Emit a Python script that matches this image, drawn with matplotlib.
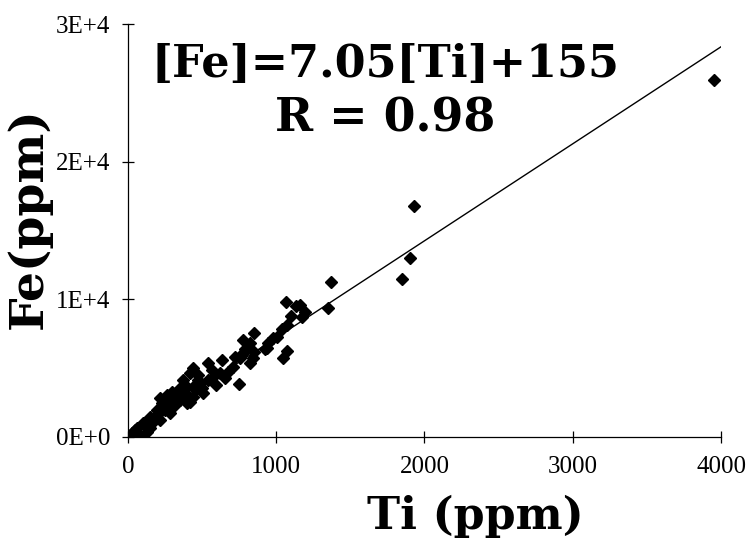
import matplotlib
matplotlib.use("Agg")
import matplotlib.pyplot as plt
import numpy as np

# Data
ti = [3953, 1929, 1902, 1848, 1369, 1349, 1194, 1174, 1160, 1133, 1066, 1099, 1072, 1039,
      1072, 1045, 978, 944, 924, 850, 823, 776, 789, 843, 755, 850, 776, 722, 634, 540,
      708, 823, 621, 573, 540, 472, 438, 418, 749, 371, 398, 465, 486, 364, 438, 506,
      351, 418, 938, 1005, 472, 499, 438, 351, 330, 263, 283, 229, 196, 250, 148, 101,
      61, 27, 10, 169, 128, 81, 196, 283, 371, 398, 216, 317, 115, 47, 13, 148, 216,
      297, 384, 567, 675, 594, 654]
fe = [25925, 16775, 13000, 11474, 11256, 9368, 9078, 8714, 9586, 9513, 9804, 8787, 8133, 7843,
      6245, 5737, 7189, 6826, 6391, 7552, 6826, 7044, 6391, 5737, 5737, 6173, 6100, 5810,
      5592, 5374, 5083, 5374, 4648, 4357, 4139, 4502, 5011, 4648, 3849, 4139, 3631, 3558,
      3921, 3195, 2905, 3195, 2687, 2542, 6463, 7262, 4139, 3558, 3631, 3558, 2905, 3050,
      2469, 2469, 1961, 1961, 1452, 1017, 654, 290, 100, 1089, 363, 145, 1598, 1743, 2905,
      2469, 2832, 2324, 871, 508, 73, 654, 1234, 3268, 3195, 4866, 4720, 3776, 4285]
slope = 7.05
intercept = 155
fit_x = [0, 4000]
x_ticks = [0, 1000, 2000, 3000, 4000]
y_ticks = [0, 10000, 20000, 30000]
y_tick_labels = ["0E+0", "1E+4", "2E+4", "3E+4"]

fig = plt.figure(figsize=(7.48, 5.48), dpi=100)
ax = fig.add_axes([0.171, 0.2026, 0.793, 0.7534])

ax.plot(fit_x, [slope * v + intercept for v in fit_x], color="black", lw=1.0, zorder=2)
ax.plot(ti, fe, linestyle="none", marker="D", markersize=6, color="black", zorder=3)

ax.set_xlim(0, 4000)
ax.set_ylim(0, 30000)
ax.set_xticks(x_ticks)
ax.set_xticklabels([str(v) for v in x_ticks])
ax.set_yticks(y_ticks)
ax.set_yticklabels(y_tick_labels)

for s in ["top", "right"]:
    ax.spines[s].set_visible(False)
for s in ["left", "bottom"]:
    ax.spines[s].set_linewidth(0.9)
    ax.spines[s].set_color("black")
ax.spines["bottom"].set_zorder(1)

ax.tick_params(axis="both", direction="inout", length=9, width=0.9, colors="black",
               labelsize=18)
ax.tick_params(axis="x", pad=9)
ax.tick_params(axis="y", pad=8)
for lab in ax.get_xticklabels() + ax.get_yticklabels():
    lab.set_family("Liberation Serif")

ax.set_xlabel("Ti (ppm)", fontsize=32, fontweight="bold", family="DejaVu Serif")
ax.xaxis.set_label_coords(0.585, -0.14)
ax.set_ylabel("Fe(ppm)", fontsize=34, fontweight="bold", family="DejaVu Serif")
ax.yaxis.set_label_coords(-0.128, 0.53)

fig.text(0.516, 0.883, "[Fe]=7.05[Ti]+155", fontsize=32, fontweight="bold",
         family="DejaVu Serif", ha="center", va="center")
fig.text(0.515, 0.783, "R = 0.98", fontsize=33, fontweight="bold",
         family="DejaVu Serif", ha="center", va="center")

fig.savefig("out.png", dpi=100, facecolor="white")
